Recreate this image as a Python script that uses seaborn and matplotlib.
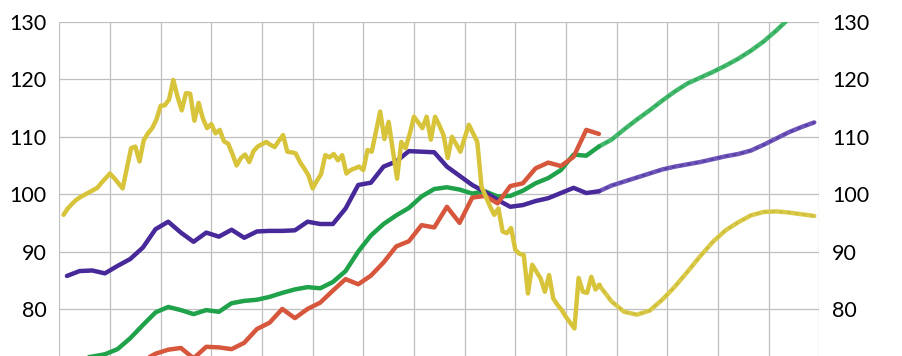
import numpy as np
import pandas as pd
import matplotlib
matplotlib.use("Agg")
import matplotlib.pyplot as plt
import seaborn as sns

# ---------------- data (index values) ----------------
# quarterly series, first observation at quarter 0.6 of the time axis
purple_actual = [85.75, 86.6, 86.7, 86.2, 87.5, 88.7, 90.7, 93.9, 95.2, 93.3,
                 91.7, 93.3, 92.6, 93.8, 92.4, 93.5, 93.6, 93.6, 93.7, 95.2,
                 94.8, 94.8, 97.5, 101.6, 102.0, 104.8, 105.7, 107.5, 107.4, 107.3,
                 104.8, 103.2, 101.6, 100.4, 99.0, 97.8, 98.1, 98.8, 99.3, 100.2,
                 101.1, 100.2, 100.5]
purple_forecast = [100.5, 101.5, 102.2, 102.9, 103.6, 104.3, 104.8, 105.2, 105.6,
                   106.1, 106.6, 107.0, 107.6, 108.6, 109.7, 110.8, 111.7, 112.5]

green_actual = [70.6, 71.4, 71.7, 72.1, 73.0, 74.9, 77.2, 79.4, 80.35, 79.8,
                79.1, 79.8, 79.5, 81.0, 81.4, 81.6, 82.1, 82.8, 83.4, 83.8,
                83.6, 84.7, 86.6, 90.0, 92.8, 94.8, 96.3, 97.6, 99.6, 100.9,
                101.2, 100.8, 100.1, 100.5, 99.6, 99.7, 100.6, 101.9, 102.8, 104.2,
                106.9, 106.7, 108.3]
green_forecast = [108.3, 109.5, 111.3, 113.0, 114.6, 116.3, 117.9, 119.3, 120.3,
                  121.3, 122.4, 123.6, 125.0, 126.6, 128.5, 130.6, 132.8, 135.0]

# red starts six quarters later
red_actual = [71.0, 72.2, 72.9, 73.2, 71.4, 73.4, 73.3, 73.0, 74.1, 76.5,
              77.6, 80.0, 78.4, 80.0, 81.1, 83.2, 85.2, 84.3, 85.8, 88.1,
              90.9, 91.8, 94.6, 94.2, 97.8, 95.0, 99.4, 99.7, 98.4, 101.4,
              101.9, 104.5, 105.5, 104.9, 106.5, 111.2, 110.5]

# monthly series
yellow_actual = [96.4, 97.5, 98.3, 99.0, 99.5, 99.9, 100.3, 100.7, 101.1, 102.0,
                 102.8, 103.6, 102.8, 101.9, 101.0, 104.5, 108.0, 108.3, 105.7, 109.4,
                 110.6, 111.5, 113.0, 115.4, 115.5, 116.5, 119.9, 117.0, 114.6, 117.6,
                 117.5, 112.8, 115.9, 113.2, 111.5, 112.2, 110.6, 111.2, 109.2, 108.8,
                 107.0, 105.0, 106.3, 106.9, 105.6, 107.5, 108.3, 108.7, 109.1, 108.6,
                 108.2, 109.3, 110.3, 107.4, 107.3, 107.1, 105.6, 104.5, 103.3, 101.0,
                 102.3, 103.5, 106.8, 106.4, 107.0, 105.9, 106.8, 103.6, 104.2, 104.5,
                 104.8, 104.2, 107.7, 107.4, 110.9, 114.4, 109.6, 112.6, 107.6, 102.7,
                 109.1, 108.0, 110.5, 113.5, 112.5, 111.5, 113.5, 109.5, 113.5, 112.0,
                 110.3, 106.3, 110.0, 108.7, 107.4, 109.8, 112.1, 110.6, 109.1, 101.3,
                 99.6, 97.9, 96.4, 97.5, 93.5, 93.2, 94.1, 90.3, 89.6, 89.4,
                 82.7, 87.7, 86.5, 85.3, 83.0, 85.9, 81.8, 80.7, 79.8, 78.6,
                 77.6, 76.6, 85.4, 83.0, 82.8, 85.6, 83.4, 84.2]
yellow_forecast = [84.2, 81.3, 79.5, 79.0, 79.7, 81.6, 83.9, 86.5, 89.2, 91.7,
                   93.7, 95.1, 96.3, 96.9, 97.0, 96.8, 96.5, 96.2]

y_ticks = [80, 90, 100, 110, 120, 130]

# time axis (quarters)
q_start = 0.6
red_start = 6.6
yellow_start = 1 / 3
forecast_start = 42.6

purple_x = q_start + np.arange(len(purple_actual))
green_x = q_start + np.arange(len(green_actual))
red_x = red_start + np.arange(len(red_actual))
yellow_x = yellow_start + np.arange(len(yellow_actual)) / 3
fc_x = forecast_start + np.arange(len(purple_forecast))

# ---------------- plot ----------------
sns.set_style("white")
plt.rcParams["font.family"] = ["Lato", "DejaVu Sans"]

fig = plt.figure(figsize=(9.02, 3.56), dpi=100)
ax = fig.add_axes([59.3 / 902, 0, 760 / 902, 334 / 356])

C_PURPLE = "#47299A"
C_PURPLE_F = "#6E55B8"
C_GREEN = "#1FA24A"
C_GREEN_F = "#44B86C"
C_RED = "#D6573B"
C_YELLOW = "#D8C43A"
C_YELLOW_F = "#DACA4A"

lw = 3.2
kw = dict(linewidth=lw, solid_joinstyle="round", solid_capstyle="round")

def actual(x, y, c):
    sns.lineplot(x=x, y=y, color=c, ax=ax, sort=False, estimator=None, **kw)

def forecast(x, y, c, dot):
    sns.lineplot(x=x, y=y, color=c, ax=ax, sort=False, estimator=None, **kw)
    ax.plot(x, y, color=dot, linewidth=1.4, linestyle=(0, (1, 3)),
            dash_capstyle="round", alpha=0.6)

forecast(fc_x, green_forecast, C_GREEN_F, C_GREEN)
forecast(fc_x, purple_forecast, C_PURPLE_F, C_PURPLE)
forecast(fc_x, yellow_forecast, C_YELLOW_F, "#C4B02E")
actual(green_x, green_actual, C_GREEN)
actual(purple_x, purple_actual, C_PURPLE)
actual(red_x, red_actual, C_RED)
actual(yellow_x, yellow_actual, C_YELLOW)

ax.set_xlim(0, 60)
ax.set_ylim(71.8, 130)
ax.set_xticks(np.arange(0, 61, 4))
ax.set_yticks(y_ticks)
ax.set_xticklabels([])
ax.set_xlabel("")
ax.set_ylabel("")
ax.grid(True, color="#BFBFBF", linewidth=0.9)
ax.set_axisbelow(True)
for s in ax.spines.values():
    s.set_visible(False)
ax.tick_params(axis="both", length=0)
ax.tick_params(axis="y", labelsize=15.5, labelleft=True, labelright=True,
               pad=9, labelcolor="#000000")

fig.savefig("out.png", dpi=100)
